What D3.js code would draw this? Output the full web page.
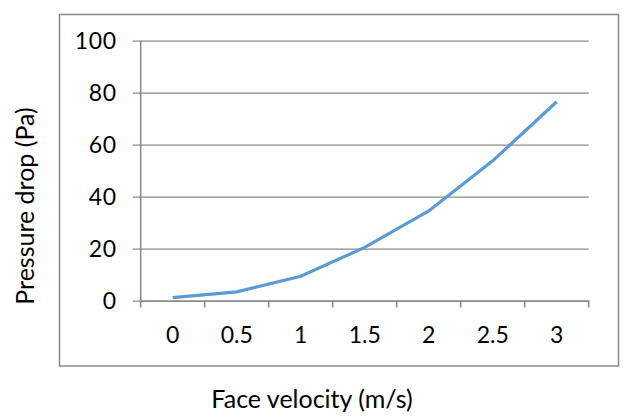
<html>
<head>
<script src="https://d3js.org/d3.v7.min.js"></script>
<style>
  body { margin: 0; background: #fff; }
  text { font-family: Lato, "Open Sans", sans-serif; fill: #000; }
</style>
</head>
<body>
<svg id="chart" width="623" height="416"></svg>
<script>
const velocities = ["0", "0.5", "1", "1.5", "2", "2.5", "3"];
const pressureDrop = [1.2, 3.4, 9.4, 20.5, 34.5, 53.8, 76.5];
const yTicks = [0, 20, 40, 60, 80, 100];

const svg = d3.select("#chart");
const gray = "#898989";

// outer chart frame
svg.append("rect")
  .attr("x", 59.5).attr("y", 14.5)
  .attr("width", 559).attr("height", 351.5)
  .attr("fill", "none").attr("stroke", gray).attr("stroke-width", 1.5);

const plotLeft = 140.7, plotRight = 588.7, plotTop = 40.7, plotBottom = 300.7;

const x = d3.scaleBand().domain(velocities).range([plotLeft, plotRight]);
const y = d3.scaleLinear().domain([0, 100]).range([plotBottom, plotTop]);

// gridlines + y axis
const yAxis = svg.append("g")
  .attr("transform", "translate(" + plotLeft + ",0)")
  .call(d3.axisLeft(y).tickValues(yTicks).tickSize(-(plotRight - plotLeft)).tickSizeOuter(0).tickPadding(24));
yAxis.select(".domain").remove();
yAxis.selectAll("line").attr("stroke", gray).attr("stroke-width", 1.3).attr("x1", -8);
yAxis.selectAll("text").style("font-size", "23px").style("letter-spacing", "0.6px");

svg.append("line")
  .attr("x1", plotLeft).attr("x2", plotLeft).attr("y1", plotTop).attr("y2", plotBottom)
  .attr("stroke", gray).attr("stroke-width", 1.5);

// x axis
const xAxis = svg.append("g")
  .attr("transform", "translate(0," + plotBottom + ")")
  .call(d3.axisBottom(x).tickSize(0).tickPadding(26));
xAxis.select(".domain").attr("stroke", gray).attr("stroke-width", 1.5);
xAxis.selectAll("text").style("font-size", "23px");

const edges = velocities.map(v => x(v)).concat([plotRight]);
svg.selectAll(".xtick").data(edges).join("line")
  .attr("class", "xtick")
  .attr("x1", d => d).attr("x2", d => d)
  .attr("y1", plotBottom).attr("y2", plotBottom + 7)
  .attr("stroke", gray).attr("stroke-width", 1.5);

// data line
const line = d3.line()
  .x((d, i) => x(velocities[i]) + x.bandwidth() / 2)
  .y(d => y(d));
svg.append("path")
  .datum(pressureDrop)
  .attr("d", line)
  .attr("fill", "none")
  .attr("stroke", "#5b9bd5")
  .attr("stroke-width", 3.2);

// axis titles
svg.append("text")
  .attr("x", 312).attr("y", 408)
  .attr("text-anchor", "middle")
  .style("font-size", "25px")
  .text("Face velocity (m/s)");

svg.append("text")
  .attr("transform", "translate(34,206)rotate(-90)")
  .attr("text-anchor", "middle")
  .style("font-size", "25px")
  .text("Pressure drop (Pa)");
</script>
</body>
</html>
